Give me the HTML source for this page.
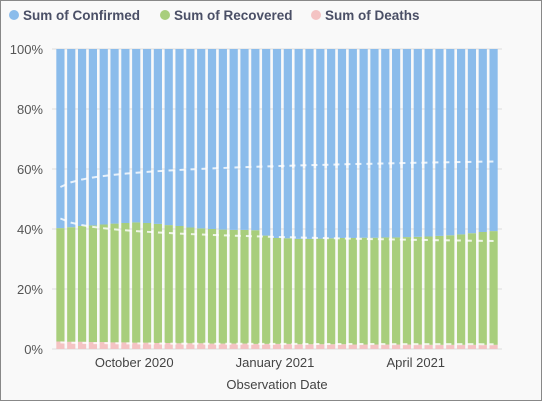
<!DOCTYPE html>
<html><head><meta charset="utf-8"><style>
body{margin:0;background:#fff}
#wrap{position:relative;width:540px;height:399px;border:1px solid #888;background:#f9f9f9;font-family:"Liberation Sans",sans-serif;overflow:hidden}
</style></head><body>
<div id="wrap">
<svg id="chart" width="540" height="399"></svg>
</div>
<script>
const categories=[];for(let i=0;i<41;i++)categories.push('w'+(i+1));
const deaths=[2.5,2.4,2.4,2.3,2.3,2.2,2.2,2.1,2.1,2.0,2.0,1.9,1.9,1.9,1.8,1.8,1.8,1.8,1.7,1.7,1.7,1.7,1.6,1.6,1.6,1.6,1.6,1.5,1.5,1.5,1.5,1.5,1.5,1.5,1.4,1.4,1.4,1.4,1.4,1.4,1.4];
const greenTop=[40.3,40.6,41,41.2,41.5,41.8,42,42.2,42,41.7,41.3,41,40.5,40.2,40,39.8,39.7,39.7,39.6,37.8,37,36.9,36.7,36.7,36.8,36.9,37,37,37.1,37.1,37.2,37.2,37.3,37.4,37.5,37.7,37.9,38.2,38.6,39,39.3];
const recovered=greenTop.map((g,i)=>g-deaths[i]);
const confirmed=greenTop.map(g=>100-g);
const yTicks=[0,20,40,60,80,100];
const xLabels=[{i:7,t:'October 2020'},{i:20,t:'January 2021'},{i:33,t:'April 2021'}];
const trendUpperEnds=[54,62.5];
const trendLowerEnds=[43.5,36];
const trendDeathEnds=[2.2,1.6];

const NS='http://www.w3.org/2000/svg',svg=document.getElementById('chart');
const G0=51,G1=501,X0=54,X1=498,Y0=348,Y1=48;
const band=(X1-X0)/categories.length,bw=8.2;
const x=i=>X0+i*band+(band-bw)/2;
const y=v=>Y0-(v/100)*(Y0-Y1);
function mk(t,a){const e=document.createElementNS(NS,t);for(const k in a)e.setAttribute(k,a[k]);svg.appendChild(e);return e;}
yTicks.forEach(v=>{
 const l=mk('line',{x1:G0,x2:G1,y1:y(v),y2:y(v),stroke:'#ddd'});
 
 
 const t=mk('text',{x:42,y:y(v)+5,'text-anchor':'end','font-size':13,fill:'#555'});t.textContent=v+'%';
 
 
});
categories.forEach((c,i)=>{
 let b=0;
 [[deaths[i],'#f4c3c3','deaths'],[recovered[i],'#a8ce7c','recovered'],[confirmed[i],'#8bbceb','confirmed']].forEach(([v,col,n])=>{
  const r=mk('rect',{x:x(i),y:y(b+v),width:bw,height:y(b)-y(b+v),fill:col});
  
  
  b+=v;
 });
});
function trend(ends,name){
 const n=categories.length,pts=[];
 for(let i=0;i<n;i++){const f=Math.log(i+1)/Math.log(n);const v=ends[0]+(ends[1]-ends[0])*f;pts.push((x(i)+bw/2)+','+y(v));}
 const p=mk('polyline',{points:pts.join(' '),fill:'none',stroke:'rgba(255,255,255,0.8)','stroke-width':2,'stroke-dasharray':'6,5'});
 
 
}
trend(trendUpperEnds,'trendline-confirmed');trend(trendLowerEnds,'trendline-recovered');trend(trendDeathEnds,'trendline-deaths');
xLabels.forEach(o=>{
 const t=mk('text',{x:x(o.i)+bw/2-2,y:366,'text-anchor':'middle','font-size':13,fill:'#444'});t.textContent=o.t;
 
 
});
const at=mk('text',{x:276,y:388,'text-anchor':'middle','font-size':13,fill:'#444'});at.textContent='Observation Date';


[[13,'#8bbceb','Sum of Confirmed'],[164,'#a8ce7c','Sum of Recovered'],[315,'#f4c3c3','Sum of Deaths']].forEach(([lx,c,t])=>{
 const d=mk('circle',{cx:lx,cy:14,r:5,fill:c});
 
 
 const tx=mk('text',{x:lx+9,y:19,'font-size':13.5,'font-weight':'bold',fill:'#4a4f66'});tx.textContent=t;
 
 
});
</script>
</body></html>
